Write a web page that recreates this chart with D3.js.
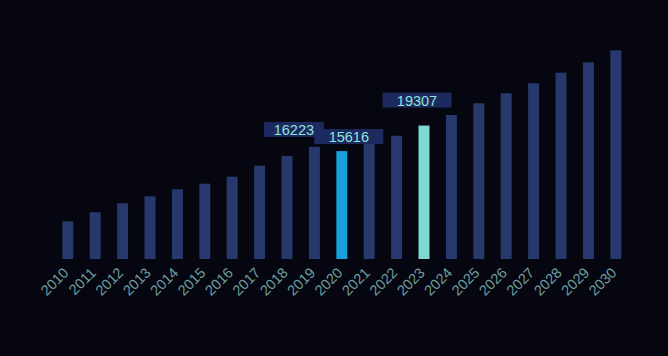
<!DOCTYPE html>
<html><head><meta charset="utf-8">
<script src="https://cdn.jsdelivr.net/npm/d3@7"></script>
<style>html,body{margin:0;padding:0;background:#05060f;}svg{display:block;}</style>
</head><body><svg id="c" width="668" height="356"></svg>
<script>
const years = ["2010","2011","2012","2013","2014","2015","2016","2017","2018","2019","2020","2021","2022","2023","2024","2025","2026","2027","2028","2029","2030"];
const values = [5450,6760,8060,9070,10090,10900,11910,13500,14900,16223,15616,16800,17840,19307,20840,22530,23980,25420,26960,28460,30200];
const highlightYears = ["2020","2023"];
const highlightColors = ["#1a9fd9","#80d9cf"];
const labelYears = ["2019","2020","2023"];
// label box layout (offset from bar centre / top, width)
const labelDx = [-20.5, 7, -7];
const labelDy = [-10, -7, -18];
const labelW = [60, 69, 69];

const svg = d3.select("#c");
svg.append("rect").attr("width",668).attr("height",356).attr("fill","#05060f");

const x = d3.scaleBand().domain(years).range([54.1, 629.5]).paddingInner(0.6).paddingOuter(0.3);
const y = d3.scaleLinear().domain([0, 35000]).range([259, 259 - 35000/144.7]);

svg.append("g").selectAll("rect").data(years).join("rect")
  .attr("x", d => x(d)).attr("width", x.bandwidth())
  .attr("y", (d,i) => y(values[i])).attr("height", (d,i) => y(0) - y(values[i]))
  .attr("fill", d => { const k = highlightYears.indexOf(d); return k >= 0 ? highlightColors[k] : "#27396c"; });

const ax = svg.append("g").attr("transform", "translate(0,259)")
  .call(d3.axisBottom(x).tickSize(0).tickPadding(0));
ax.select(".domain").remove();
ax.selectAll("text")
  .attr("font-family", "'Liberation Sans', Arial, sans-serif").attr("font-size", 14.5)
  .attr("fill", "#6f9ea0")
  .attr("text-anchor", "end").attr("dy", null).attr("y", 0)
  .attr("transform", "translate(-1,12) rotate(-45)")
  .attr("dominant-baseline", "middle");

const lg = svg.append("g");
labelYears.forEach((yr, k) => {
  const i = years.indexOf(yr);
  const cx = x(yr) + x.bandwidth()/2 + labelDx[k];
  const bottom = y(values[i]) + labelDy[k];
  const h = 15;
  lg.append("rect").attr("x", cx - labelW[k]/2).attr("y", bottom - h)
    .attr("width", labelW[k]).attr("height", h).attr("fill", "#1d2a5f");
  lg.append("text").attr("x", cx).attr("y", bottom - h/2 + 0.5)
    .attr("text-anchor", "middle").attr("dominant-baseline", "central")
    .attr("font-family", "'Liberation Sans', Arial, sans-serif").attr("font-size", 14.5)
    .attr("fill", "#8fe3dd").text(values[i]);
});
</script></body></html>
